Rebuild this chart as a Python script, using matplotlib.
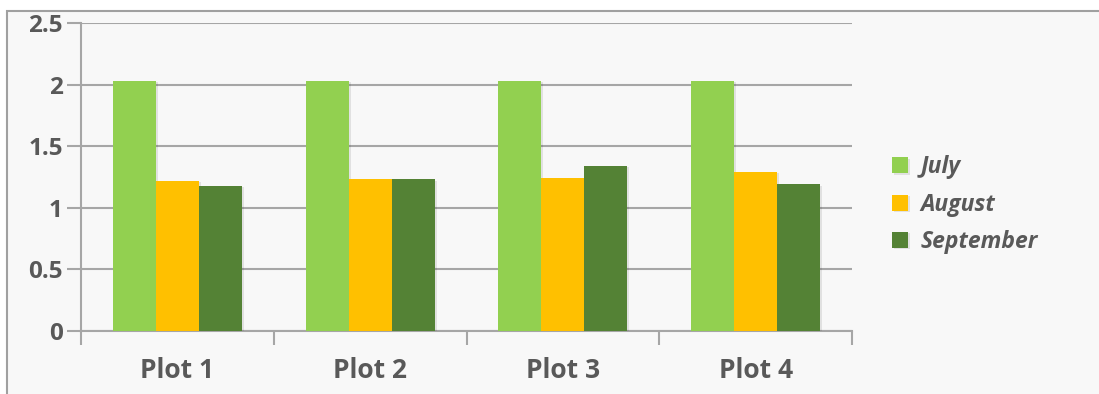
import numpy as np
import matplotlib.pyplot as plt
from matplotlib.patches import Rectangle
import matplotlib.patheffects as pe

#values
plots = ['Plot 1', 'Plot 2', 'Plot 3', 'Plot 4']
months = ['July', 'August', 'September']
july = [2.03, 2.03, 2.03, 2.03]
august = [1.22, 1.23, 1.24, 1.29]
september = [1.18, 1.23, 1.34, 1.19]
colors = ['#92d050', '#ffc000', '#548235']

txt = '#595959'
plt.rcParams['font.family'] = ['Open Sans', 'DejaVu Sans']

fig = plt.figure(figsize=(10.99, 3.94), dpi=100)
fig.patch.set_facecolor('white')
#gray framed panel behind the chart
fig.patches.append(Rectangle((7/1099, -0.1), 1.2, (394-11)/394 + 0.1, transform=fig.transFigure,
                             facecolor='#f8f8f8', edgecolor='#a0a0a0', lw=1.5, zorder=-10))

ax = fig.add_axes([81/1099, (394-331)/394, (852-81)/1099, (331-23)/394])
ax.set_facecolor('none')

x = np.arange(len(plots))
w = 0.223
shadow = [pe.SimplePatchShadow(offset=(1.5, -1), shadow_rgbFace='#000000', alpha=0.09), pe.Normal()]
for k, (vals, lab) in enumerate(zip([july, august, september], months)):
    bars = ax.bar(x + (k - 1) * w, vals, w, color=colors[k], label=lab, zorder=3)
    for b in bars:
        b.set_path_effects(shadow)

ax.set_xlim(-0.5, len(plots) - 0.5)
ax.set_ylim(0, 2.5)
ax.set_yticks([0, 0.5, 1, 1.5, 2, 2.5])
ax.set_yticklabels(['0', '0.5', '1', '1.5', '2', '2.5'])
ax.yaxis.grid(True, color='#a6a6a6', lw=1.5, zorder=0)
ax.set_xticks(x)
ax.set_xticklabels(plots)
ax.set_xticks(np.arange(len(plots) + 1) - 0.5, minor=True)
ax.tick_params(axis='x', which='major', length=0, pad=19, labelsize=19, labelcolor=txt)
ax.tick_params(axis='x', which='minor', length=10, width=1.5, color='#a6a6a6')
ax.tick_params(axis='y', length=10, width=1.5, color='#a6a6a6', labelsize=17.5, labelcolor=txt, pad=3)
for lbl in ax.get_xticklabels() + ax.get_yticklabels():
    lbl.set_fontweight('bold')

for s in ['top', 'right']:
    ax.spines[s].set_visible(False)
for s in ['left', 'bottom']:
    ax.spines[s].set_color('#a6a6a6')
    ax.spines[s].set_linewidth(1.5)

leg = ax.legend(loc='center left', bbox_to_anchor=(1.025, 0.41), frameon=False,
                prop={'size': 16.5, 'weight': 'bold', 'style': 'italic'},
                handlelength=0.7, handleheight=0.7, handletextpad=0.55, labelspacing=0.58)
for t in leg.get_texts():
    t.set_color(txt)

fig.savefig('out.png', dpi=100)
